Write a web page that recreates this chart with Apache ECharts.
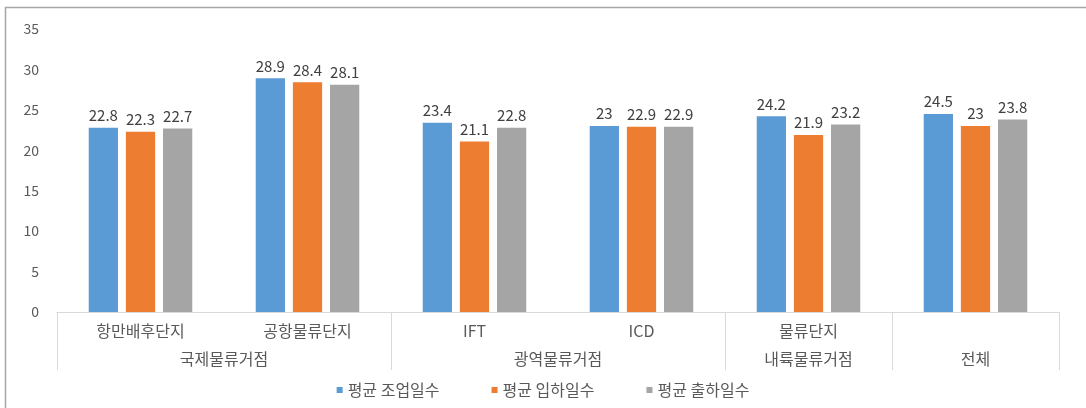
<!DOCTYPE html>
<html>
<head>
<meta charset="utf-8">
<script src="https://cdn.jsdelivr.net/npm/echarts@6/dist/echarts.min.js"></script>
<style>
html,body{margin:0;padding:0;background:#fff;}
#chart{width:1086px;height:408px;}
</style>
</head>
<body>
<div id="chart"></div>
<script>
const categories = ['항만배후단지', '공항물류단지', 'IFT', 'ICD', '물류단지', ''];
const groupNames = ['국제물류거점', '광역물류거점', '내륙물류거점', '전체'];
const groupCenters = [1, 3, 4.5, 5.5];
const groupBounds = [0, 2, 4, 5, 6];
const seriesNames = ['평균 조업일수', '평균 입하일수', '평균 출하일수'];
const workDays = [22.8, 28.9, 23.4, 23, 24.2, 24.5];
const inDays = [22.3, 28.4, 21.1, 22.9, 21.9, 23];
const outDays = [22.7, 28.1, 22.8, 22.9, 23.2, 23.8];
const yTicks = [0, 5, 10, 15, 20, 25, 30, 35];

const colors = ['#5B9BD5', '#ED7D31', '#A5A5A5'];
const font = '"Noto Sans CJK KR", "Noto Sans", sans-serif';
const chart = echarts.init(document.getElementById('chart'), null, {renderer: 'canvas'});

function bar(name, data, color) {
  return {
    name: name, type: 'bar', data: data, xAxisIndex: 0,
    barGap: '27%', barCategoryGap: '38%',
    itemStyle: {color: color},
    label: {show: true, position: 'top', distance: 5, color: '#404040', fontSize: 15, fontFamily: font},
    emphasis: {disabled: true}
  };
}

chart.setOption({
  animation: false,
  color: colors,
  textStyle: {fontFamily: font},
  graphic: [{
    type: 'rect', silent: true,
    shape: {x: 5.5, y: 7.5, width: 1100, height: 430},
    style: {fill: null, stroke: '#a6a6a6', lineWidth: 1.5}
  }],
  grid: {left: 57, right: 27, top: 29, bottom: 96, containLabel: false},
  legend: {
    data: seriesNames, bottom: 5, left: 'center',
    icon: 'rect', itemWidth: 6, itemHeight: 6, itemGap: 52,
    textStyle: {color: '#595959', fontSize: 16, fontFamily: font}
  },
  xAxis: [{
    type: 'category', data: categories, position: 'bottom',
    axisLine: {show: true, lineStyle: {color: '#d9d9d9', width: 1}},
    axisTick: {show: false},
    axisLabel: {color: '#595959', fontSize: 16, margin: 11, interval: 0, fontFamily: font}
  }, {
    type: 'value', min: 0, max: 6, position: 'bottom', offset: 0,
    axisLine: {show: false},
    splitLine: {show: false},
    axisTick: {show: true, customValues: groupBounds, length: 58, lineStyle: {color: '#d9d9d9', width: 1}},
    axisLabel: {
      show: true, customValues: groupCenters, margin: 39, color: '#595959', fontSize: 16, fontFamily: font,
      formatter: function (v) {
        const i = groupCenters.indexOf(v);
        return i >= 0 ? groupNames[i] : '';
      }
    }
  }],
  yAxis: {
    type: 'value', min: yTicks[0], max: yTicks[yTicks.length - 1], interval: 5,
    axisLine: {show: false}, axisTick: {show: false},
    splitLine: {show: false},
    axisLabel: {color: '#595959', fontSize: 14, margin: 18, fontFamily: font}
  },
  series: [
    bar(seriesNames[0], workDays, colors[0]),
    bar(seriesNames[1], inDays, colors[1]),
    bar(seriesNames[2], outDays, colors[2])
  ]
});
</script>
</body>
</html>
